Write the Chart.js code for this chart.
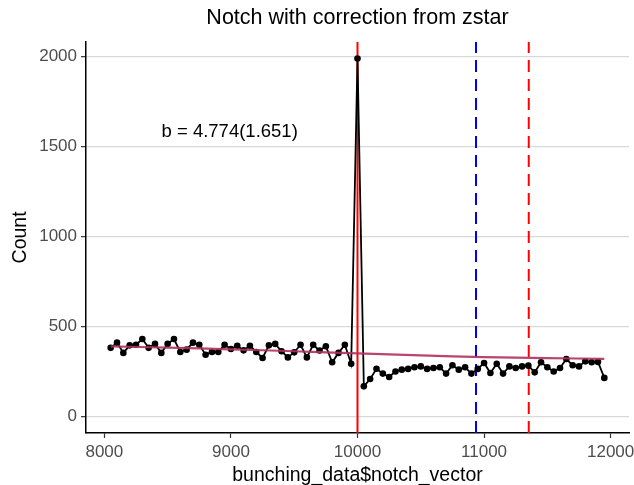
<!DOCTYPE html>
<html>
<head>
<meta charset="utf-8">
<script src="https://cdn.jsdelivr.net/npm/chart.js@4.4.1/dist/chart.umd.min.js"></script>
<style>
  html, body { margin: 0; padding: 0; background: #ffffff; }
</style>
</head>
<body>
<canvas id="grafico" width="634" height="485"></canvas>
<script>
// ---- datos ----
const bins = [
  8050, 8100, 8150, 8200, 8250, 8300, 8350, 8400, 8450, 8500,
  8550, 8600, 8650, 8700, 8750, 8800, 8850, 8900, 8950, 9000,
  9050, 9100, 9150, 9200, 9250, 9300, 9350, 9400, 9450, 9500,
  9550, 9600, 9650, 9700, 9750, 9800, 9850, 9900, 9950, 10000,
  10050, 10100, 10150, 10200, 10250, 10300, 10350, 10400, 10450, 10500,
  10550, 10600, 10650, 10700, 10750, 10800, 10850, 10900, 10950, 11000,
  11050, 11100, 11150, 11200, 11250, 11300, 11350, 11400, 11450, 11500,
  11550, 11600, 11650, 11700, 11750, 11800, 11850, 11900, 11950
];
const counts = [
  383, 412, 355, 397, 400, 432, 383, 405, 355, 405,
  432, 360, 373, 412, 400, 345, 360, 360, 400, 377,
  395, 369, 395, 360, 327, 397, 405, 364, 330, 358,
  400, 330, 400, 368, 392, 303, 355, 400, 295, 1990,
  169, 210, 267, 240, 221, 252, 262, 266, 275, 280,
  266, 271, 275, 240, 286, 262, 275, 240, 266, 299,
  243, 295, 240, 280, 271, 280, 284, 247, 303, 275,
  252, 271, 321, 286, 280, 308, 303, 305, 216
];

// curva contrafactual (ajuste)
const fitX = [8050, 8500, 9000, 9500, 10000, 10500, 11000, 11500, 11950];
const fitY = [391, 384, 375, 364, 352, 341, 332, 326, 322];

// líneas verticales: notch, zstar, zD
const vLinesX = [10000, 10936, 11353];
const vLinesColor = ['#ff0000', '#0000ff', '#ff0000'];
const vLinesDash = [[], [12, 7], [12, 7]];

const xTicks = [8000, 9000, 10000, 11000, 12000];
const yTicks = [0, 500, 1000, 1500, 2000];
const xMin = 7855, xMax = 12145;
const yMin = -90, yMax = 2083;

const etiqueta = 'b = 4.774(1.651)';
const etiquetaX = 8990, etiquetaY = 1580;

const fuente = "'Liberation Sans', Arial, Helvetica, sans-serif";
Chart.defaults.font.family = fuente;

// ---- datasets ----
const datasets = [];

vLinesX.forEach((vx, i) => {
  datasets.push({
    data: [{ x: vx, y: yMin }, { x: vx, y: yMax }],
    borderColor: vLinesColor[i],
    borderWidth: 2,
    borderDash: vLinesDash[i],
    pointRadius: 0,
    order: 3
  });
});

datasets.push({
  data: bins.map((b, i) => ({ x: b, y: counts[i] })),
  borderColor: '#000000',
  backgroundColor: '#000000',
  borderWidth: 1.8,
  pointRadius: 3.3,
  pointBackgroundColor: '#000000',
  pointBorderWidth: 0,
  order: 2
});

datasets.push({
  data: fitX.map((x, i) => ({ x, y: fitY[i] })),
  borderColor: 'rgba(176,48,96,0.9)',
  borderWidth: 2.2,
  pointRadius: 0,
  tension: 0.4,
  order: 1
});

// texto anotado dentro del panel
const pluginEtiqueta = {
  id: 'etiqueta',
  afterDatasetsDraw(chart) {
    const { ctx, scales } = chart;
    ctx.save();
    ctx.font = `18.5px ${fuente}`;
    ctx.fillStyle = '#000000';
    ctx.textAlign = 'center';
    ctx.textBaseline = 'middle';
    ctx.fillText(etiqueta, scales.x.getPixelForValue(etiquetaX), scales.y.getPixelForValue(etiquetaY));
    ctx.restore();
  }
};

new Chart(document.getElementById('grafico').getContext('2d'), {
  type: 'line',
  data: { datasets },
  plugins: [pluginEtiqueta],
  options: {
    responsive: false,
    animation: false,
    devicePixelRatio: 1,
    layout: { padding: { left: 0, right: 5, top: 0, bottom: 0 } },
    plugins: {
      legend: { display: false },
      tooltip: { enabled: false },
      title: {
        display: true,
        fullSize: false,
        text: 'Notch with correction from zstar',
        color: '#000000',
        font: { size: 21.5, weight: 'normal', lineHeight: 1.2 },
        padding: { top: 5.5, bottom: 10.5 }
      }
    },
    scales: {
      x: {
        type: 'linear',
        min: xMin,
        max: xMax,
        afterBuildTicks: s => { s.ticks = xTicks.map(v => ({ value: v })); },
        afterFit: s => { s.height = 52; s.paddingLeft = 0; s.paddingRight = 0; },
        grid: { drawOnChartArea: false, tickLength: 5, tickColor: '#333333', tickWidth: 1.2 },
        border: { color: '#000000', width: 1.5 },
        ticks: {
          color: '#4d4d4d',
          font: { size: 17 },
          padding: 4,
          maxRotation: 0,
          autoSkip: false,
          callback: v => String(v)
        },
        title: {
          display: true,
          text: 'bunching_data$notch_vector',
          color: '#000000',
          font: { size: 19.5, lineHeight: 1 },
          padding: { top: 0, bottom: 0 }
        }
      },
      y: {
        min: yMin,
        max: yMax,
        afterBuildTicks: s => { s.ticks = yTicks.map(v => ({ value: v })); },
        afterFit: s => { s.width = 86; },
        grid: { color: '#d9d9d9', lineWidth: 1.3, tickLength: 5, tickColor: '#333333', tickWidth: 1.2 },
        border: { color: '#000000', width: 1.5 },
        ticks: {
          color: '#4d4d4d',
          font: { size: 17 },
          padding: 4,
          callback: v => String(v)
        },
        title: {
          display: true,
          text: 'Count',
          color: '#000000',
          font: { size: 19.5, lineHeight: 1 },
          padding: { top: 11, bottom: 0 }
        }
      }
    }
  }
});
</script>
</body>
</html>
